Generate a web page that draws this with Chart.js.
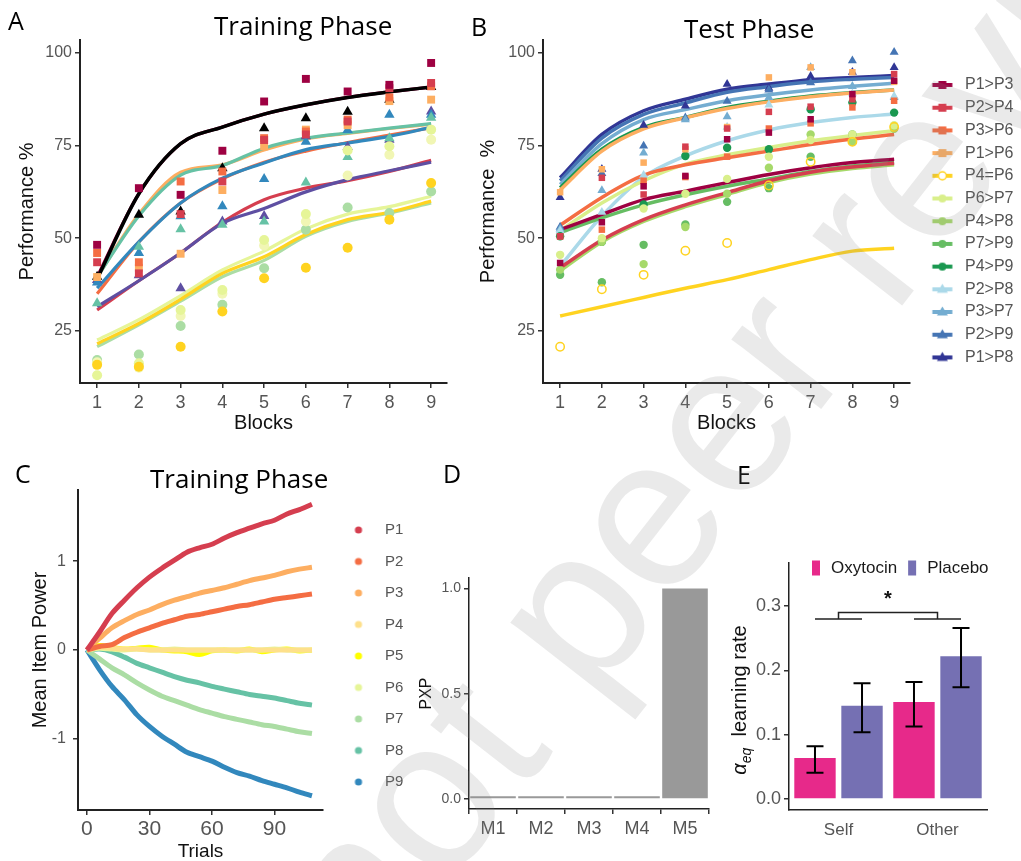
<!DOCTYPE html>
<html lang="en">
<head>
<meta charset="UTF-8">
<title>Training and test performance, item power and learning rates</title>
<script src="https://cdn.jsdelivr.net/npm/chart.js"></script>
<style>
  body { margin: 0; width: 1021px; height: 861px; overflow: hidden; background: #fff; position: relative; font-family: "Liberation Sans", Arial, sans-serif; }
  .panel { position: absolute; }
  .panel canvas { display: block; }
  .txt { position: absolute; font-family: "Open Sans", sans-serif; color: #000; line-height: 1; white-space: nowrap; }
  #watermark { position: absolute; left: 227px; top: 874px; font: 215px/1 "Liberation Sans", Arial, sans-serif; color: rgba(140, 140, 140, 0.18); white-space: nowrap; transform: rotate(-52deg); transform-origin: 0 0; pointer-events: none; z-index: 5; }
  #eTitle { position: absolute; left: 741px; top: 700px; transform: translate(-50%, -50%) rotate(-90deg); font: 20px "Liberation Sans", Arial, sans-serif; color: #111; white-space: nowrap; }
</style>
</head>
<body>
<div class="panel" style="left:0;top:0"><canvas id="chartA" width="470" height="440"></canvas></div>
<div class="panel" style="left:470px;top:0"><canvas id="chartB" width="551" height="440"></canvas></div>
<div class="panel" style="left:0;top:440px"><canvas id="chartC" width="430" height="425"></canvas></div>
<div class="panel" style="left:400px;top:440px"><canvas id="chartD" width="320" height="421"></canvas></div>
<div class="panel" style="left:720px;top:440px"><canvas id="chartE" width="301" height="421"></canvas></div>

<div class="txt" style="left:8px;top:8px;font-size:25px">A</div>
<div class="txt" style="left:471px;top:14px;font-size:25px">B</div>
<div class="txt" style="left:15px;top:461px;font-size:25px">C</div>
<div class="txt" style="left:443px;top:461px;font-size:25px">D</div>
<div class="txt" style="left:737px;top:462px;font-size:25px">E</div>
<div class="txt" style="left:214px;top:12px;font-size:26px">Training Phase</div>
<div class="txt" style="left:684px;top:15px;font-size:26px">Test Phase</div>
<div class="txt" style="left:150px;top:465px;font-size:26px">Training Phase</div>
<div id="eTitle"><i>α</i><sub style="font-size:14px"><i>eq</i></sub>&nbsp; learning rate</div>

<div id="watermark">not peer reviewed</div>

<script>
// ---- shared ticks ----
const blocks = [1, 2, 3, 4, 5, 6, 7, 8, 9];
const perfTicks = [25, 50, 75, 100];

// ---- A: training phase, performance per block ----
const trainColors = ['#9E0142', '#D53E4F', '#F46D43', '#FDAE61', '#FFD320', '#E6F598', '#F1F6B4', '#ABDDA4', '#66C2A5', '#3288BD', '#5E4FA2', '#000000'];
const trainShapes = ['rect', 'rect', 'rect', 'rect', 'circle', 'circle', 'circle', 'circle', 'triangle', 'triangle', 'triangle', 'triangle'];
const trainPoints = [
  [48.2, 63.5, 61.7, 73.6, 86.9, 93.0, 89.6, 91.4, 97.3],
  [43.5, 40.5, 56.5, 65.3, 76.5, 78.0, 81.5, 90.5, 91.9],
  [46.0, 43.5, 65.3, 68.0, 77.0, 78.8, 82.0, 88.0, 91.0],
  [39.5, 42.0, 45.8, 63.0, 74.8, 79.3, 80.5, 87.0, 87.4],
  [15.8, 15.3, 20.7, 30.2, 39.2, 42.0, 47.4, 55.0, 64.9],
  [13.0, 16.2, 30.6, 36.0, 49.5, 56.5, 73.7, 74.8, 79.3],
  [16.5, 15.0, 29.0, 35.0, 48.0, 54.5, 66.9, 72.5, 76.6],
  [17.1, 18.6, 26.3, 32.0, 41.9, 52.3, 58.3, 56.8, 62.6],
  [32.4, 47.7, 52.4, 53.6, 54.5, 65.0, 71.9, 77.0, 82.5],
  [38.0, 46.0, 55.9, 58.6, 66.0, 76.0, 79.2, 83.3, 83.3],
  [38.7, 40.0, 36.5, 54.5, 56.0, 77.5, 74.6, 76.6, 84.2],
  [39.6, 56.3, 57.2, 68.9, 79.7, 82.4, 84.1, 87.4, 90.8]
];
const trainFits = [
  [39.5, 62.0, 75.5, 80.0, 83.5, 86.0, 88.0, 89.5, 90.8],
  [30.6, 38.5, 46.0, 54.3, 60.4, 63.5, 65.5, 68.0, 71.0],
  [35.0, 49.0, 59.5, 66.0, 70.5, 73.5, 75.8, 77.8, 79.8],
  [39.5, 56.5, 67.8, 69.8, 73.8, 76.8, 78.3, 79.6, 80.8],
  [21.5, 27.0, 33.5, 40.5, 45.0, 51.0, 55.0, 57.0, 60.0],
  [22.5, 28.0, 34.5, 41.4, 46.5, 52.5, 56.5, 58.5, 61.3],
  null,
  [20.7, 26.6, 33.0, 39.6, 44.0, 50.5, 54.5, 56.8, 59.5],
  [39.5, 56.0, 67.0, 69.6, 74.3, 77.0, 78.4, 79.7, 80.9],
  [36.5, 49.0, 59.5, 66.2, 70.3, 73.9, 75.7, 77.5, 79.9],
  [31.5, 38.5, 46.0, 54.0, 58.0, 62.5, 65.8, 68.2, 70.5],
  [39.0, 62.0, 75.5, 80.0, 83.5, 86.0, 88.0, 89.5, 90.8]
];
// fits drawn underneath their twin curve
const trainFitBehind = [1, 2, 3];

// ---- B: test phase, performance per pair ----
const testPairs = ['P1>P3', 'P2>P4', 'P3>P6', 'P1>P6', 'P4=P6', 'P6>P7', 'P4>P8', 'P7>P9', 'P4>P9', 'P2>P8', 'P3>P7', 'P2>P9', 'P1>P8'];
const testColors = ['#9E0142', '#D53E4F', '#F46D43', '#FDAE61', '#FFD320', '#D9EF8B', '#A6D96A', '#66BD63', '#1A9850', '#ABD9E9', '#74ADD1', '#4575B4', '#313695'];
const testShapes = ['rect', 'rect', 'rect', 'rect', 'open', 'circle', 'circle', 'circle', 'circle', 'triangle', 'triangle', 'triangle', 'triangle'];
const testPoints = [
  [43.3, 54.3, 64.0, 66.8, 76.7, 78.5, 82.1, 88.9, 92.5],
  [50.5, 66.3, 61.8, 74.7, 79.6, 84.1, 85.5, 87.5, 94.3],
  [50.5, 52.3, 65.5, 66.5, 72.0, 79.6, 81.0, 85.3, 87.1],
  [62.4, 68.6, 70.4, 74.0, 80.0, 93.4, 96.1, 94.8, 92.2],
  [20.7, 36.2, 40.1, 46.6, 48.7, 64.2, 70.6, 76.0, 80.0],
  [45.5, 50.0, 58.0, 62.0, 66.0, 72.0, 76.5, 78.0, 80.5],
  [41.5, 49.0, 43.0, 53.0, 62.0, 69.0, 78.0, 76.0, 79.5],
  [40.1, 38.1, 48.2, 53.7, 59.8, 63.5, 72.0, 78.0, 80.0],
  [50.5, 49.0, 59.1, 72.2, 74.4, 74.0, 84.8, 86.6, 83.9],
  [52.0, 57.0, 67.0, 73.0, 80.0, 86.0, 85.0, 89.0, 88.3],
  [52.5, 62.9, 73.0, 82.0, 82.8, 88.0, 96.1, 91.0, 88.0],
  [53.0, 67.5, 74.9, 82.5, 87.0, 90.0, 92.0, 97.9, 100.2],
  [61.0, 68.6, 80.5, 85.7, 91.6, 90.5, 93.7, 94.8, 96.1]
];
const testFits = [
  [52.3, 56.4, 60.4, 62.7, 65.0, 67.2, 69.0, 70.4, 71.3],
  [42.0, 49.5, 55.0, 59.0, 62.3, 65.5, 67.8, 69.2, 70.2],
  [53.5, 61.0, 67.0, 69.8, 71.7, 73.5, 75.3, 76.8, 78.0],
  [63.0, 73.5, 79.5, 82.5, 85.0, 86.8, 88.2, 89.2, 90.0],
  [29.0, 31.5, 34.0, 36.5, 38.8, 41.5, 44.2, 46.5, 47.3],
  [52.0, 59.5, 65.5, 70.0, 72.5, 74.5, 76.3, 77.7, 79.0],
  [41.2, 49.0, 54.5, 58.5, 61.8, 65.0, 67.3, 68.8, 69.8],
  [51.5, 55.5, 59.0, 61.7, 64.0, 66.0, 68.0, 69.5, 70.5],
  [63.6, 74.0, 79.9, 82.6, 85.3, 87.0, 88.4, 89.3, 90.0],
  [42.4, 56.0, 66.5, 72.2, 76.3, 79.2, 81.2, 82.6, 83.5],
  [64.5, 75.5, 82.0, 84.7, 87.1, 88.7, 90.0, 91.0, 91.8],
  [65.5, 77.0, 83.4, 86.5, 89.4, 90.9, 92.2, 92.9, 93.4],
  [66.3, 78.0, 84.4, 87.5, 90.2, 91.6, 92.8, 93.4, 93.9]
];

// ---- C: mean item power over trials ----
const trials = [0, 6, 12, 18, 24, 30, 36, 42, 48, 54, 60, 66, 72, 78, 84, 90, 96, 102, 108];
const trialTicks = [0, 30, 60, 90];
const powerTicks = [-1, 0, 1];
const items = ['P1', 'P2', 'P3', 'P4', 'P5', 'P6', 'P7', 'P8', 'P9'];
const itemColors = ['#D53E4F', '#F46D43', '#FDAE61', '#FEE08B', '#FFFF00', '#E6F598', '#ABDDA4', '#66C2A5', '#3288BD'];
const itemPower = [
  [0, 0.20, 0.41, 0.56, 0.70, 0.82, 0.92, 1.01, 1.10, 1.15, 1.19, 1.26, 1.32, 1.37, 1.42, 1.46, 1.53, 1.58, 1.64],
  [0, 0.04, 0.06, 0.14, 0.20, 0.25, 0.30, 0.34, 0.38, 0.40, 0.43, 0.46, 0.49, 0.51, 0.54, 0.57, 0.59, 0.61, 0.63],
  [0, 0.13, 0.25, 0.33, 0.40, 0.45, 0.51, 0.56, 0.60, 0.64, 0.67, 0.70, 0.74, 0.78, 0.81, 0.84, 0.88, 0.91, 0.93],
  [0, 0.03, 0.02, 0.01, 0.01, 0, 0, 0, 0, 0, 0, 0, 0, 0, 0, 0, 0, 0, 0],
  [0, 0.05, 0.03, 0.01, 0.02, 0.03, 0, -0.01, -0.02, -0.05, -0.01, 0, -0.01, 0.01, -0.02, 0, 0.01, -0.01, 0],
  [0, 0.02, 0.01, 0, 0.01, 0, 0, 0.01, 0, 0, 0, 0, 0, 0, 0, 0.01, 0, 0, 0],
  [0, -0.10, -0.20, -0.28, -0.37, -0.45, -0.52, -0.57, -0.62, -0.67, -0.71, -0.75, -0.78, -0.81, -0.84, -0.86, -0.89, -0.92, -0.94],
  [0, 0.01, -0.02, -0.08, -0.15, -0.20, -0.25, -0.30, -0.34, -0.37, -0.41, -0.44, -0.47, -0.50, -0.52, -0.54, -0.57, -0.60, -0.62],
  [0, -0.22, -0.41, -0.56, -0.73, -0.86, -0.97, -1.06, -1.15, -1.20, -1.25, -1.32, -1.38, -1.42, -1.47, -1.51, -1.55, -1.60, -1.64]
];

// ---- D: protected exceedance probability ----
const models = ['M1', 'M2', 'M3', 'M4', 'M5'];
const pxp = [0.013, 0.013, 0.013, 0.013, 1.0];
const pxpTicks = [0, 0.5, 1.0];

// ---- E: learning rate by condition ----
const targets = ['Self', 'Other'];
const oxytocin = [0.064, 0.151];
const placebo = [0.145, 0.222];
const oxyLow = [0.041, 0.113], oxyHigh = [0.082, 0.182];
const placLow = [0.104, 0.174], placHigh = [0.180, 0.266];
const rateTicks = [0, 0.1, 0.2, 0.3];
const bracketLow = 0.28, bracketHigh = 0.29, starAt = 0.317;

Chart.defaults.font.family = '"Liberation Sans", Arial, sans-serif';
Chart.defaults.color = '#555';
Chart.defaults.animation = false;
Chart.defaults.responsive = false;
Chart.defaults.plugins.tooltip.enabled = false;

const fixW = w => s => { s.width = w; };
const fixH = h => s => { s.height = h; };
const setTicks = list => s => { s.ticks = list.map(v => ({ value: v })); };
const tickGrid = { display: true, drawOnChartArea: false, drawTicks: true, tickLength: 5, color: '#333', lineWidth: 1.5 };
const axisTitle = (text, size, pad) => ({ display: true, text: text, color: '#111', font: { size: size }, padding: pad });

// chart A
const dsA = [];
trainPoints.forEach((pts, i) => {
  dsA.push({
    data: blocks.map((b, k) => ({ x: b, y: pts[k] })),
    showLine: false, order: 0,
    pointStyle: trainShapes[i],
    pointRadius: trainShapes[i] === 'rect' ? 5.6 : trainShapes[i] === 'triangle' ? 6 : 5,
    backgroundColor: trainColors[i], borderColor: trainColors[i], pointBorderWidth: 0
  });
});
trainFits.forEach((fit, i) => {
  if (!fit) return;
  dsA.push({
    data: blocks.map((b, k) => ({ x: b, y: fit[k] })),
    showLine: true, pointRadius: 0, borderWidth: i === 11 ? 3.5 : 3.2,
    borderColor: trainColors[i], cubicInterpolationMode: 'monotone',
    order: i === 11 ? 1 : trainFitBehind.includes(i) ? 3 : 2
  });
});
new Chart(document.getElementById('chartA'), {
  type: 'scatter',
  data: { datasets: dsA },
  options: {
    layout: { padding: { left: 0, top: 40, right: 23, bottom: 0 } },
    plugins: { legend: { display: false } },
    scales: {
      x: {
        type: 'linear', min: 0.59, max: 9.38,
        afterBuildTicks: setTicks(blocks), afterFit: fixH(57),
        grid: tickGrid, border: { color: '#222', width: 2 },
        ticks: { font: { size: 18 }, padding: 4 },
        title: axisTitle('Blocks', 20, { top: 0, bottom: 4.6 })
      },
      y: {
        min: 10.9, max: 103.5,
        afterBuildTicks: setTicks(perfTicks), afterFit: fixW(80),
        grid: tickGrid, border: { color: '#222', width: 2 },
        ticks: { font: { size: 16 }, padding: 3 },
        title: axisTitle('Performance %', 20, { top: 15, bottom: 0 })
      }
    }
  }
});

// chart B
function makeIcon(color, shape) {
  const c = document.createElement('canvas');
  c.width = 40; c.height = 14;
  const g = c.getContext('2d');
  const cx = 25.5, cy = 7;
  g.strokeStyle = color; g.fillStyle = color; g.lineWidth = 4;
  g.beginPath(); g.moveTo(15.5, cy); g.lineTo(35.5, cy); g.stroke();
  g.beginPath();
  if (shape === 'rect') g.rect(cx - 4, cy - 4, 8, 8);
  else if (shape === 'triangle') { g.moveTo(cx, cy - 5.5); g.lineTo(cx + 5.5, cy + 3.5); g.lineTo(cx - 5.5, cy + 3.5); g.closePath(); }
  else g.arc(cx, cy, 4, 0, Math.PI * 2);
  if (shape === 'open') { g.fillStyle = '#fff'; g.fill(); g.lineWidth = 1.5; g.stroke(); }
  else g.fill();
  return c;
}
function makeDot(color) {
  const c = document.createElement('canvas');
  c.width = 38; c.height = 10;
  const g = c.getContext('2d');
  g.fillStyle = color;
  g.beginPath(); g.arc(19, 5, 3.6, 0, Math.PI * 2); g.fill();
  return c;
}
const icons = testColors.map((c, i) => makeIcon(c, testShapes[i]));
const dots = itemColors.map(makeDot);

const dsB = [];
testPoints.forEach((pts, i) => {
  const open = testShapes[i] === 'open';
  dsB.push({
    label: testPairs[i],
    data: blocks.map((b, k) => ({ x: b, y: pts[k] })),
    showLine: false, order: 0,
    pointStyle: open ? 'circle' : testShapes[i],
    pointRadius: testShapes[i] === 'rect' ? 4.6 : testShapes[i] === 'triangle' ? 5.2 : 4.2,
    backgroundColor: open ? 'rgba(255,255,255,0)' : testColors[i],
    borderColor: testColors[i], pointBorderWidth: open ? 1.5 : 0
  });
});
testFits.forEach((fit, i) => {
  dsB.push({
    label: testPairs[i] + ' fit',
    data: blocks.map((b, k) => ({ x: b, y: fit[k] })),
    showLine: true, pointRadius: 0, borderWidth: 3.5,
    borderColor: testColors[i], cubicInterpolationMode: 'monotone', order: 1
  });
});
new Chart(document.getElementById('chartB'), {
  type: 'scatter',
  data: { datasets: dsB },
  options: {
    layout: { padding: { left: 0, top: 40, right: 2, bottom: 0 } },
    plugins: {
      legend: {
        position: 'right', align: 'start', maxWidth: 109,
        title: { display: true, text: '', font: { size: 10 }, padding: { top: 9, bottom: 9.3 } },
        labels: {
          usePointStyle: true, pointStyleWidth: 40.3, padding: 6.7,
          font: { size: 16 }, color: '#1a1a1a',
          generateLabels: () => testPairs.map((name, i) => ({
            text: name + '   ', pointStyle: icons[i], fillStyle: testColors[i],
            strokeStyle: testColors[i], lineWidth: 0, hidden: false, datasetIndex: i
          }))
        }
      }
    },
    scales: {
      x: {
        type: 'linear', min: 0.59, max: 9.38,
        afterBuildTicks: setTicks(blocks), afterFit: fixH(57),
        grid: tickGrid, border: { color: '#222', width: 2 },
        ticks: { font: { size: 18 }, padding: 4 },
        title: axisTitle('Blocks', 20, { top: 0, bottom: 4.6 })
      },
      y: {
        min: 10.9, max: 103.5,
        afterBuildTicks: setTicks(perfTicks), afterFit: fixW(73),
        grid: tickGrid, border: { color: '#222', width: 2 },
        ticks: { font: { size: 16 }, padding: 3 },
        title: axisTitle('Performance  %', 20, { top: 6.6, bottom: 0 })
      }
    }
  }
});

// chart C
new Chart(document.getElementById('chartC'), {
  type: 'scatter',
  data: {
    datasets: items.map((name, i) => ({
      label: name,
      data: trials.map((t, k) => ({ x: t, y: itemPower[i][k] })),
      showLine: true, pointRadius: 0, borderWidth: 5, tension: 0.3,
      borderColor: itemColors[i], backgroundColor: itemColors[i],
      order: name === 'P5' ? 1 : 0
    }))
  },
  options: {
    layout: { padding: { left: 0, top: 50, right: 22, bottom: 0 } },
    plugins: {
      legend: {
        position: 'right', align: 'start', maxWidth: 85,
        title: { display: true, text: '', font: { size: 10 }, padding: 2 },
        labels: {
          usePointStyle: true, pointStyleWidth: 38, padding: 16.5,
          font: { size: 15 }, color: '#1a1a1a',
          generateLabels: chart => chart.data.datasets.map((ds, i) => ({
            text: ds.label + '   ', pointStyle: dots[i], fillStyle: itemColors[i],
            strokeStyle: itemColors[i], lineWidth: 0, hidden: false, datasetIndex: i
          }))
        }
      }
    },
    scales: {
      x: {
        type: 'linear', min: -4.3, max: 113.3,
        afterBuildTicks: setTicks(trialTicks), afterFit: fixH(55),
        grid: tickGrid, border: { color: '#222', width: 2 },
        ticks: { font: { size: 21 }, padding: 2 },
        title: axisTitle('Trials', 19, { top: 0, bottom: 1.6 })
      },
      y: {
        min: -1.8, max: 1.8,
        afterBuildTicks: setTicks(powerTicks), afterFit: fixW(78),
        grid: tickGrid, border: { color: '#222', width: 2 },
        ticks: { font: { size: 16 }, padding: 7 },
        title: axisTitle('Mean Item Power', 20, { top: 28.6, bottom: 0 })
      }
    }
  }
});

// chart D
new Chart(document.getElementById('chartD'), {
  type: 'bar',
  data: { labels: models, datasets: [{ label: 'PXP', data: pxp, backgroundColor: '#999999', barPercentage: 0.95, categoryPercentage: 1 }] },
  options: {
    layout: { padding: { left: 0, top: 138, right: 11, bottom: 0 } },
    plugins: { legend: { display: false } },
    scales: {
      x: {
        afterFit: fixH(52),
        grid: tickGrid, border: { color: '#222', width: 1.5 },
        ticks: { font: { size: 18 }, padding: 4 }
      },
      y: {
        min: -0.048, max: 1.05,
        afterBuildTicks: setTicks(pxpTicks), afterFit: fixW(69),
        grid: tickGrid, border: { color: '#222', width: 1.5 },
        ticks: { font: { size: 14 }, padding: 3, callback: v => v.toFixed(1) },
        title: axisTitle('PXP', 16, { top: 17, bottom: 0 })
      }
    }
  }
});

// chart E
const errorBars = {
  id: 'errorBars',
  afterDatasetsDraw(chart) {
    const { ctx } = chart;
    const y = chart.scales.y;
    const lows = [oxyLow, placLow], highs = [oxyHigh, placHigh];
    ctx.save();
    ctx.strokeStyle = '#000'; ctx.lineWidth = 2;
    [0, 1].forEach(d => {
      chart.getDatasetMeta(d).data.forEach((bar, j) => {
        const y1 = y.getPixelForValue(lows[d][j]), y2 = y.getPixelForValue(highs[d][j]);
        ctx.beginPath();
        ctx.moveTo(bar.x, y1); ctx.lineTo(bar.x, y2);
        ctx.moveTo(bar.x - 8.5, y1); ctx.lineTo(bar.x + 8.5, y1);
        ctx.moveTo(bar.x - 8.5, y2); ctx.lineTo(bar.x + 8.5, y2);
        ctx.stroke();
      });
    });
    // significance bracket between Self and Other
    const m0 = chart.getDatasetMeta(0).data, m1 = chart.getDatasetMeta(1).data;
    const lo = y.getPixelForValue(bracketLow), hi = y.getPixelForValue(bracketHigh);
    ctx.lineWidth = 1.5; ctx.strokeStyle = '#222';
    const mids = [0, 1].map(j => (m0[j].x + m1[j].x) / 2);
    ctx.beginPath();
    [0, 1].forEach(j => { ctx.moveTo(m0[j].x, lo); ctx.lineTo(m1[j].x, lo); });
    ctx.moveTo(mids[0], lo); ctx.lineTo(mids[0], hi); ctx.lineTo(mids[1], hi); ctx.lineTo(mids[1], lo);
    ctx.stroke();
    ctx.fillStyle = '#111'; ctx.font = 'bold 20px "Liberation Sans"';
    ctx.textAlign = 'center'; ctx.textBaseline = 'middle';
    ctx.fillText('*', (mids[0] + mids[1]) / 2, y.getPixelForValue(starAt) + 4);
    ctx.restore();
  }
};
const insideLegend = {
  id: 'insideLegend',
  afterDraw(chart) {
    const { ctx, chartArea } = chart;
    let x = chartArea.left + 23;
    const yc = chartArea.top + 5;
    ctx.save();
    ctx.font = '17px "Liberation Sans"'; ctx.textBaseline = 'middle'; ctx.textAlign = 'left';
    chart.data.datasets.forEach(ds => {
      ctx.fillStyle = ds.backgroundColor; ctx.fillRect(x, yc - 7.5, 8, 15);
      ctx.fillStyle = '#1a1a1a'; ctx.fillText(ds.label, x + 19, yc);
      x += 19 + ctx.measureText(ds.label).width + 11;
    });
    ctx.restore();
  }
};
new Chart(document.getElementById('chartE'), {
  type: 'bar',
  data: {
    labels: targets,
    datasets: [
      { label: 'Oxytocin', data: oxytocin, backgroundColor: '#E7298A', categoryPercentage: 0.95, barPercentage: 0.88 },
      { label: 'Placebo', data: placebo, backgroundColor: '#7570B3', categoryPercentage: 0.95, barPercentage: 0.88 }
    ]
  },
  plugins: [errorBars, insideLegend],
  options: {
    layout: { padding: { left: 0, top: 123, right: 34, bottom: 0 } },
    plugins: { legend: { display: false } },
    scales: {
      x: {
        afterFit: fixH(51),
        grid: { display: true, drawOnChartArea: false, drawTicks: false },
        border: { color: '#222', width: 1.5 },
        ticks: { font: { size: 17 }, padding: 10 }
      },
      y: {
        min: -0.017, max: 0.367,
        afterBuildTicks: setTicks(rateTicks), afterFit: fixW(69),
        grid: tickGrid, border: { color: '#222', width: 1.5 },
        ticks: { font: { size: 18 }, padding: 3, callback: v => v.toFixed(1) }
      }
    }
  }
});
</script>
</body>
</html>
